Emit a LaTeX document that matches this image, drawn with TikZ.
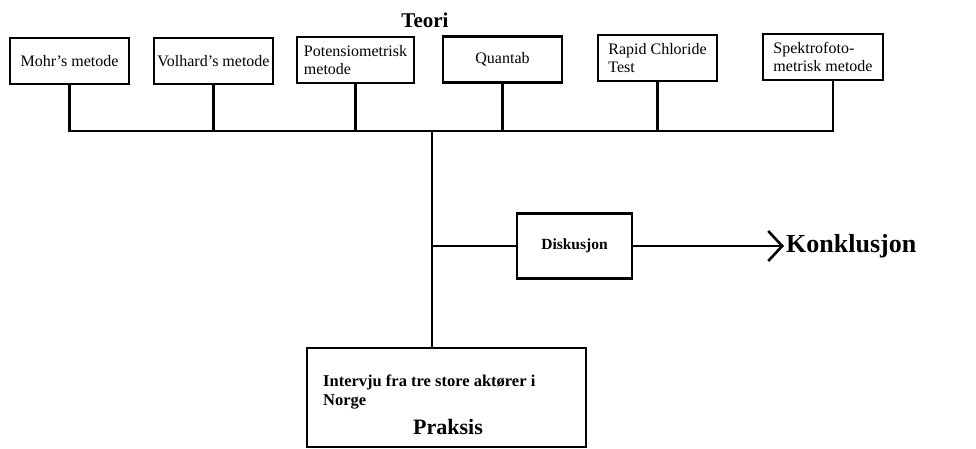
\documentclass[tikz,border=0pt]{standalone}
\usepackage{fontspec}
\setmainfont{Liberation Serif}
\usepackage{tikz}
\usetikzlibrary{arrows.meta}
\usetikzlibrary{positioning}
\tikzset{metode/.style = {draw, line width = 2.6pt, minimum height = 46pt,
                          inner sep = 1pt, align = left,
                          font = \fontsize{16}{18}\selectfont}}
\tikzset{linje/.style = {line width = 2.6pt}}
\tikzset{tittel/.style = {font = \bfseries\fontsize{21}{24}\selectfont}}

\begin{document}
\begin{tikzpicture}[x = 1pt, y = -1pt]
    \useasboundingbox (0, 0) rectangle (976, 448);

    \node [tittel] (teori) at (425, 20) {Teori};

    \node [metode, minimum width = 119pt] (mohr) at (69.5, 61) {Mohr's metode};
    \node [metode, minimum width = 119pt] (volhard) at (213.5, 61) {Volhard's metode};
    \node [metode, minimum width = 117pt] (potens) at (355.5, 60) {Potensiometrisk\\metode};
    \node [metode, minimum width = 119pt] (quantab) at (502.5, 59.5) {Quantab};
    \node [metode, minimum width = 119pt] (rapid) at (657.5, 58) {Rapid Chloride\\Test};
    \node [metode, minimum width = 120pt] (spektro) at (823, 57) {Spektrofoto-\\metrisk metode};

    \coordinate (bus) at (432, 131);
    \draw [linje] (mohr.south) -- (mohr.south |- bus)
        -- ([xshift = 10pt]spektro.south |- bus) -- ([xshift = 10pt]spektro.south);
    \foreach \n in {volhard, potens, quantab, rapid}
        \draw [linje] (\n.south) -- (\n.south |- bus);

    \node [draw, line width = 2.6pt, minimum width = 279pt, minimum height = 99pt]
        (praksis) at (446.5, 397.5) {};
    \draw [linje] (bus) -- (bus |- praksis.north);

    \node [anchor = west, inner sep = 0, align = left,
           font = \bfseries\fontsize{16.5}{19}\selectfont]
        (intervju) at (323, 392) {Intervju fra tre store aktører i\\Norge};
    \node [font = \bfseries\fontsize{22}{26}\selectfont] (praksistekst) at (448, 427) {Praksis};

    \node [draw, line width = 2.6pt, minimum width = 115pt, minimum height = 65pt,
           font = \bfseries\fontsize{15.5}{18}\selectfont]
        (diskusjon) at (574.5, 246) {Diskusjon};
    \node [anchor = west, inner sep = 2pt, font = \bfseries\fontsize{26}{30}\selectfont]
        (konklusjon) at (784, 246) {Konklusjon};

    \draw [linje] (bus |- diskusjon.west) -- (diskusjon.west);
    \draw [linje, -{Straight Barb[length = 14pt, width = 30pt, line width = 2.6pt]}]
        (diskusjon.east) -- (konklusjon.west);
  \end{tikzpicture}
\end{document}
